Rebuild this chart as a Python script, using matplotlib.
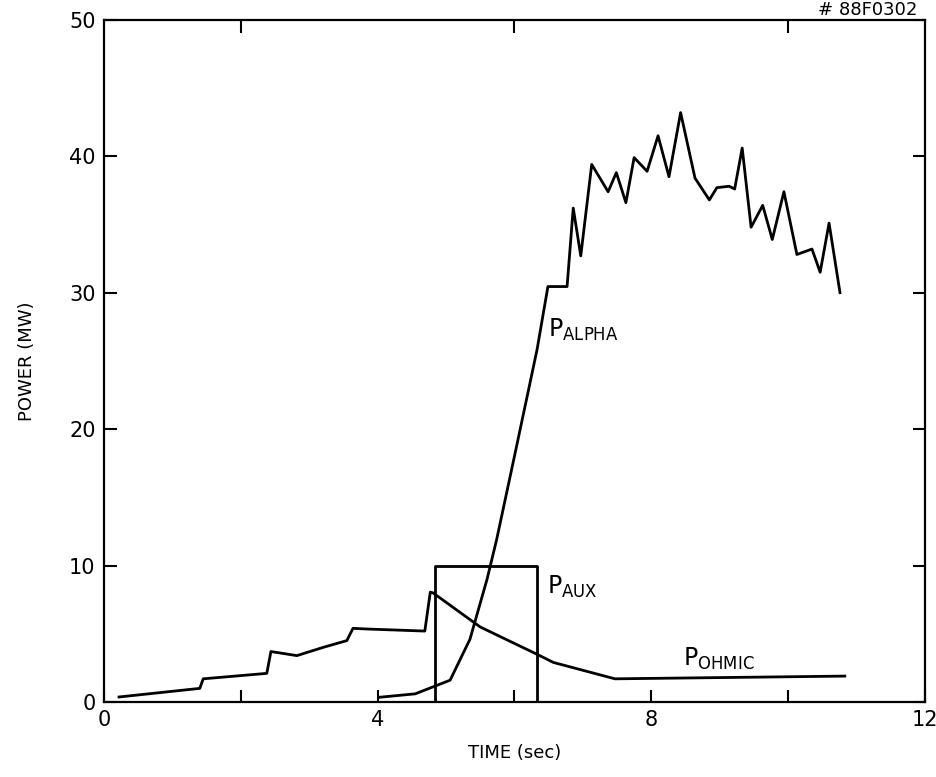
import matplotlib
matplotlib.use('Agg')
import matplotlib.pyplot as plt

# ── data ─────────────────────────────────────────────────────
ohmic_t = [0.22, 1.40, 1.45, 2.38, 2.44, 2.82, 3.20, 3.55, 3.64, 3.85, 4.69, 4.77, 4.81,
           5.50, 6.33, 6.57, 7.47, 10.83]
ohmic_p = [0.37, 1.0, 1.7, 2.1, 3.7, 3.4, 4.0, 4.5, 5.4, 5.35, 5.2, 8.05, 8.0,
           5.5, 3.5, 2.9, 1.7, 1.9]

aux_t = [4.84, 4.84, 6.33, 6.33]
aux_p = [0, 10, 10, 0]

alpha_t = [4.03, 4.55, 5.06, 5.35, 5.60, 5.74, 6.00, 6.33, 6.49, 6.77, 6.86, 6.97, 7.13,
           7.37, 7.49, 7.63, 7.75, 7.94, 8.10, 8.26, 8.43, 8.64, 8.85, 8.96, 9.14, 9.22,
           9.33, 9.46, 9.63, 9.77, 9.94, 10.13, 10.35, 10.47, 10.60, 10.76]
alpha_p = [0.35, 0.6, 1.6, 4.6, 9.0, 11.9, 18.0, 25.8, 30.45, 30.45, 36.2, 32.7, 39.4,
           37.4, 38.8, 36.6, 39.9, 38.9, 41.5, 38.5, 43.2, 38.4, 36.8, 37.7, 37.8, 37.6,
           40.6, 34.8, 36.4, 33.9, 37.4, 32.8, 33.2, 31.5, 35.1, 30.0]

xticks = [0, 4, 8, 12]
yticks = [0, 10, 20, 30, 40, 50]

plt.rcParams['font.family'] = ['DejaVu Sans']

fig = plt.figure(figsize=(9.37, 7.77), dpi=100)
ax = fig.add_axes([0.111, 0.0965, 0.876, 0.878])

ax.plot(ohmic_t, ohmic_p, color='black', lw=2.0)
ax.plot(aux_t, aux_p, color='black', lw=2.0)
ax.plot(alpha_t, alpha_p, color='black', lw=2.0)

ax.set_xlim(0, 12)
ax.set_ylim(0, 50)
ax.set_xticks(xticks)
ax.set_xticks([2, 6, 10], minor=True)
ax.set_yticks(yticks)
ax.tick_params(which='both', direction='in', top=True, right=True, length=9, width=1.5,
               labelsize=15, pad=6)
ax.tick_params(axis='x', which='major', top=False)
ax.tick_params(axis='y', labelright=False)
for s in ax.spines.values():
    s.set_linewidth(1.6)

ax.set_xlabel('TIME (sec)', fontsize=13, labelpad=10)
ax.set_ylabel('POWER (MW)', fontsize=13, labelpad=24)

ax.text(6.49, 26.8, r'$\mathregular{P_{ALPHA}}$', fontsize=17, va='baseline')
ax.text(6.47, 7.9, r'$\mathregular{P_{AUX}}$', fontsize=17, va='baseline')
ax.text(8.47, 2.65, r'$\mathregular{P_{OHMIC}}$', fontsize=17, va='baseline')

# stamp in the top right corner (cropped in the scan)
fig.text(0.979, 0.999, '# 88F0302', ha='right', va='top', fontsize=13)

plt.savefig('out.png', dpi=100)
plt.close()
